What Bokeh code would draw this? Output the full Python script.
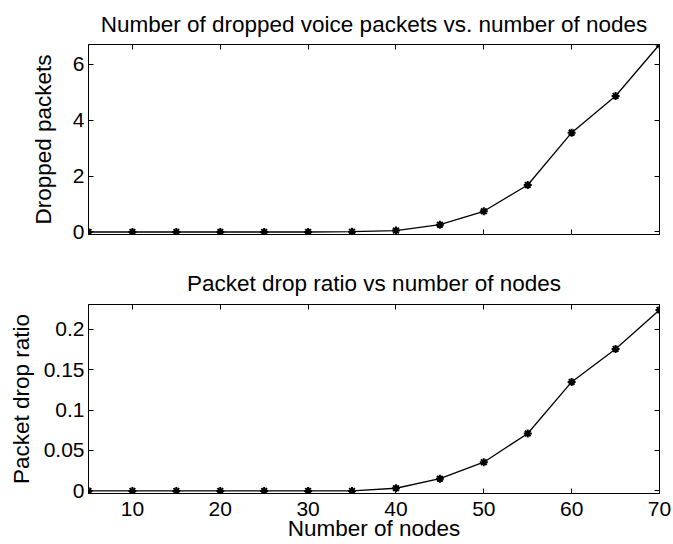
from bokeh.plotting import figure
from bokeh.layouts import column
from bokeh.models import LinearAxis, FixedTicker, Range1d
from bokeh.embed import file_html
from bokeh.resources import INLINE

# ---- data ----
nodes = [5, 10, 15, 20, 25, 30, 35, 40, 45, 50, 55, 60, 65, 70]
dropped_packets = [0, 0, 0, 0, 0, 0, 0.01, 0.05, 0.26, 0.74, 1.68, 3.55, 4.86, 6.7]
drop_ratio = [0, 0, 0, 0, 0, 0, 0, 0.0033, 0.0151, 0.0355, 0.071, 0.1347, 0.1755, 0.2237]

x_ticks = [10, 20, 30, 40, 50, 60, 70]
x_labels = ["10", "20", "30", "40", "50", "60", "70"]
top_y_ticks = [0, 2, 4, 6]
top_y_labels = ["0", "2", "4", "6"]
bot_y_ticks = [0, 0.05, 0.1, 0.15, 0.2]
bot_y_labels = ["0", "0.05", "0.1", "0.15", "0.2"]

top_title = "Number of dropped voice packets vs. number of nodes"
bot_title = "Packet drop ratio vs number of nodes"
top_ylabel = "Dropped packets"
bot_ylabel = "Packet drop ratio"
xlabel = "Number of nodes"

FONT = "Liberation Sans"
BIG = "22.5px"
TICK = "21px"


def make_axis(ticks, labels=None, label=None, label_standoff=5, axis_label_standoff=5):
    ax = LinearAxis(ticker=FixedTicker(ticks=ticks))
    ax.major_tick_in = 5
    ax.major_tick_out = 0
    ax.minor_tick_in = 0
    ax.minor_tick_out = 0
    ax.axis_line_color = "black"
    ax.major_tick_line_color = "black"
    if labels is None:
        # mirrored axis: ticks only, labels not painted
        ax.major_label_text_font_size = "1px"
        ax.major_label_text_color = None
        ax.major_label_standoff = 0
    else:
        ax.major_label_overrides = {t: l for t, l in zip(ticks, labels)}
        ax.major_label_text_font = FONT
        ax.major_label_text_font_size = TICK
        ax.major_label_text_color = "black"
        ax.major_label_standoff = label_standoff
    if label is not None:
        ax.axis_label = label
        ax.axis_label_text_font = FONT
        ax.axis_label_text_font_size = BIG
        ax.axis_label_text_font_style = "normal"
        ax.axis_label_text_color = "black"
        ax.axis_label_standoff = axis_label_standoff
    return ax


def make_fig(height, top, bottom, title, title_standoff, yr, x, y):
    p = figure(width=673, height=height, output_backend="svg", toolbar_location=None,
               x_range=Range1d(5, 70), y_range=Range1d(*yr),
               x_axis_type=None, y_axis_type=None,
               min_border_left=88, min_border_right=14,
               min_border_top=top, min_border_bottom=bottom)
    p.grid.visible = False
    p.outline_line_color = "black"
    p.outline_line_width = 1
    p.title.text = title
    p.title.align = "center"
    p.title.text_font = FONT
    p.title.text_font_size = BIG
    p.title.text_font_style = "normal"
    p.title.text_color = "black"
    p.title.standoff = title_standoff
    p.line(x, y, line_color="black", line_width=1.3)
    p.scatter(x, y, marker="asterisk", size=8, line_color="black", line_width=2)
    return p


p1 = make_fig(258, 44, 24, top_title, 16, (-0.09, 6.7), nodes, dropped_packets)
p1.add_layout(make_axis(top_y_ticks, top_y_labels, top_ylabel,
                        label_standoff=4, axis_label_standoff=14), "left")
p1.add_layout(make_axis(top_y_ticks), "right")
p1.add_layout(make_axis(x_ticks), "below")
p1.add_layout(make_axis(x_ticks), "above")

p2 = make_fig(286, 46, 51, bot_title, 18, (-0.0032, 0.2304), nodes, drop_ratio)
p2.add_layout(make_axis(bot_y_ticks, bot_y_labels, bot_ylabel,
                        label_standoff=4, axis_label_standoff=7), "left")
p2.add_layout(make_axis(bot_y_ticks), "right")
p2.add_layout(make_axis(x_ticks, x_labels, xlabel,
                        label_standoff=8, axis_label_standoff=-3), "below")
p2.add_layout(make_axis(x_ticks), "above")

layout = column(p1, p2, spacing=0)
open("out.html", "w").write(file_html(layout, INLINE))
